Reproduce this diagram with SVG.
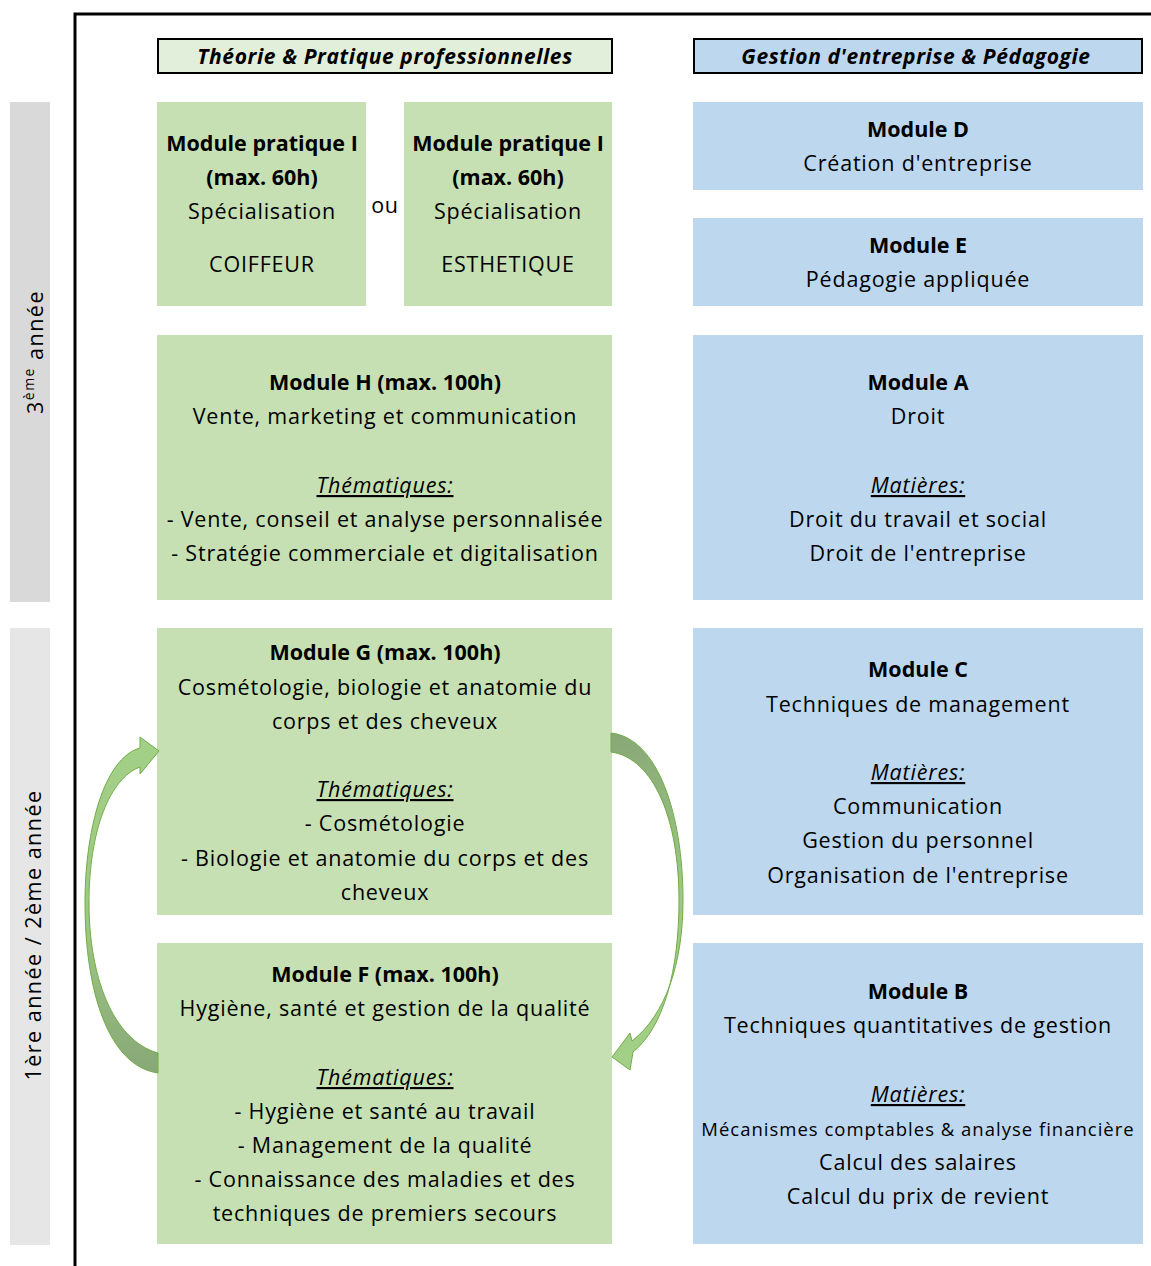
<svg xmlns="http://www.w3.org/2000/svg" width="1151" height="1266" viewBox="0 0 1151 1266">
<style>
text{font-family:"Open Sans","Liberation Sans",sans-serif;font-size:21.5px;letter-spacing:0.8px;fill:#000;text-anchor:middle}
.b{font-weight:bold;letter-spacing:0}
.h{font-weight:bold;font-style:italic;font-size:21px;letter-spacing:0.6px}
.u{font-style:italic;text-decoration:underline}
.g{fill:#c6e0b4}
.bl{fill:#bdd7ee}
.sm{font-size:18.5px;letter-spacing:1px}
.side{letter-spacing:1.5px}
</style>
<defs>
<linearGradient id="gl" x1="0" y1="0" x2="0" y2="1">
<stop offset="0" stop-color="#a3d087"/>
<stop offset="0.55" stop-color="#9ec784"/>
<stop offset="1" stop-color="#88a877"/>
</linearGradient>
<linearGradient id="gr" x1="0" y1="0" x2="0" y2="1">
<stop offset="0" stop-color="#88a877"/>
<stop offset="0.45" stop-color="#9ec784"/>
<stop offset="1" stop-color="#a3d087"/>
</linearGradient>
</defs>
<rect width="1151" height="1266" fill="#fff"/>
<g id="frame">
<path d="M75,1266 V14 H1151" fill="none" stroke="#000" stroke-width="3"/>
</g>
<g id="year3">
<rect x="10" y="102" width="40" height="500" fill="#d9d9d9"/>
<text class="side" transform="translate(43,352) rotate(-90)">3<tspan dy="-9" style="font-size:14px">ème</tspan><tspan dy="9"> année</tspan></text>
</g>
<g id="year12">
<rect x="10" y="628" width="40" height="617" fill="#e7e6e6"/>
<text class="side" transform="translate(41,935) rotate(-90)">1ère année / 2ème année</text>
</g>
<g id="header-left">
<rect x="158" y="39" width="454" height="34" fill="#e2efda" stroke="#000" stroke-width="2"/>
<text x="385" y="64" class="h">Théorie &amp; Pratique professionnelles</text>
</g>
<g id="header-right">
<rect x="694" y="39" width="448" height="34" fill="#bdd7ee" stroke="#000" stroke-width="2"/>
<text x="916" y="64" class="h">Gestion d'entreprise &amp; Pédagogie</text>
</g>
<g id="mp-coiffeur">
<rect x="157" y="102" width="209" height="204" class="g"/>
<text x="262" y="151" class="b">Module pratique I</text>
<text x="262" y="185" class="b">(max. 60h)</text>
<text x="262" y="219">Spécialisation</text>
<text x="262" y="272">COIFFEUR</text>
</g>
<g id="ou"><text x="385" y="213">ou</text></g>
<g id="mp-esthetique">
<rect x="404" y="102" width="208" height="204" class="g"/>
<text x="508" y="151" class="b">Module pratique I</text>
<text x="508" y="185" class="b">(max. 60h)</text>
<text x="508" y="219">Spécialisation</text>
<text x="508" y="272">ESTHETIQUE</text>
</g>
<g id="module-h">
<rect x="157" y="335" width="455" height="265" class="g"/>
<text x="385" y="390" class="b">Module H (max. 100h)</text>
<text x="385" y="424">Vente, marketing et communication</text>
<text x="385" y="493" class="u">Thématiques:</text>
<text x="385" y="527">- Vente, conseil et analyse personnalisée</text>
<text x="385" y="561">- Stratégie commerciale et digitalisation</text>
</g>
<g id="module-g">
<rect x="157" y="628" width="455" height="287" class="g"/>
<text x="385" y="660" class="b">Module G (max. 100h)</text>
<text x="385" y="695">Cosmétologie, biologie et anatomie du</text>
<text x="385" y="729">corps et des cheveux</text>
<text x="385" y="797" class="u">Thématiques:</text>
<text x="385" y="831">- Cosmétologie</text>
<text x="385" y="866">- Biologie et anatomie du corps et des</text>
<text x="385" y="900">cheveux</text>
</g>
<g id="module-f">
<rect x="157" y="943" width="455" height="301" class="g"/>
<text x="385" y="982" class="b">Module F (max. 100h)</text>
<text x="385" y="1016">Hygiène, santé et gestion de la qualité</text>
<text x="385" y="1085" class="u">Thématiques:</text>
<text x="385" y="1119">- Hygiène et santé au travail</text>
<text x="385" y="1153">- Management de la qualité</text>
<text x="385" y="1187">- Connaissance des maladies et des</text>
<text x="385" y="1221">techniques de premiers secours</text>
</g>
<g id="module-d">
<rect x="693" y="102" width="450" height="88" class="bl"/>
<text x="918" y="137" class="b">Module D</text>
<text x="918" y="171">Création d'entreprise</text>
</g>
<g id="module-e">
<rect x="693" y="218" width="450" height="88" class="bl"/>
<text x="918" y="253" class="b">Module E</text>
<text x="918" y="287">Pédagogie appliquée</text>
</g>
<g id="module-a">
<rect x="693" y="335" width="450" height="265" class="bl"/>
<text x="918" y="390" class="b">Module A</text>
<text x="918" y="424">Droit</text>
<text x="918" y="493" class="u">Matières:</text>
<text x="918" y="527">Droit du travail et social</text>
<text x="918" y="561">Droit de l'entreprise</text>
</g>
<g id="module-c">
<rect x="693" y="628" width="450" height="287" class="bl"/>
<text x="918" y="677" class="b">Module C</text>
<text x="918" y="712">Techniques de management</text>
<text x="918" y="780" class="u">Matières: </text>
<text x="918" y="814">Communication</text>
<text x="918" y="848">Gestion du personnel</text>
<text x="918" y="883">Organisation de l'entreprise</text>
</g>
<g id="module-b">
<rect x="693" y="943" width="450" height="301" class="bl"/>
<text x="918" y="999" class="b">Module B</text>
<text x="918" y="1033">Techniques quantitatives de gestion</text>
<text x="918" y="1102" class="u">Matières:</text>
<text x="918" y="1136" class="sm">Mécanismes comptables &amp; analyse financière</text>
<text x="918" y="1170">Calcul des salaires</text>
<text x="918" y="1204">Calcul du prix de revient</text>
</g>
<g id="connectors">
<path d="M158,1053 C112,1040 89,975 89,903 C89,830 110,778 140,767 L140,774 L159,751 L140,737 L140,748 C104,758 85,830 85,903 C85,990 108,1066 158,1073 Z" fill="url(#gl)" stroke="#70ad47" stroke-width="1"/>
<path d="M611,733 C658,738 683,815 683,900 C683,965 665,1015 632,1041 L630,1033 L612,1057 L630,1070 L633,1052 C664,1027 679,970 679,900 C679,820 654,758 611,752 Z" fill="url(#gr)" stroke="#70ad47" stroke-width="1"/>
</g>
</svg>
